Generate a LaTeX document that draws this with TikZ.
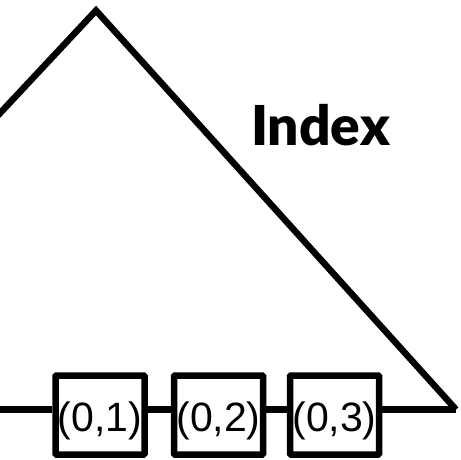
\documentclass[tikz,border=0pt]{standalone}
\usepackage{fontspec}
\setmainfont{Liberation Sans}
\newfontfamily\titlefont{Lato Black}
\usetikzlibrary{positioning, calc}

\begin{document}
\begin{tikzpicture}[
    x=1pt, y=-1pt,
    line width=6.5pt,
    cell/.style={rectangle, draw, fill=white, line width=6.5pt, rounded corners=1pt,
                 minimum width=89pt, minimum height=79pt, inner sep=0pt,
                 font=\fontsize{41}{41}\selectfont, text height=36pt, text depth=3pt},
    link/.style={line width=6.5pt},
  ]
    \useasboundingbox (0,0) rectangle (461,459);
    \clip (0,0) rectangle (461,459);
    % index triangle
    \coordinate (top) at (96,10.5);
    \coordinate (lc) at (-277,409.5);
    \coordinate (rc) at (456,409.5);
    \draw[line join=miter] (lc) -- (top) -- (rc);
    \node[font=\titlefont\fontsize{55}{55}\selectfont, anchor=base] (idx) at (320.5,145) {Index};
    % leaf cells
    \foreach \k/\x in {1/100, 2/218.5, 3/334.5}{
      \node[cell] (c\k) at (\x,415) {(0,\k)};}
    \draw[link] (lc) -- ([yshift=5.5pt]c1.west);
    \foreach \a/\b in {1/2, 2/3}\draw[link] ([yshift=5.5pt]c\a.east) -- ([yshift=5.5pt]c\b.west);
    \draw[link] ([yshift=5.5pt]c3.east) -- (rc);
  \end{tikzpicture}
\end{document}
